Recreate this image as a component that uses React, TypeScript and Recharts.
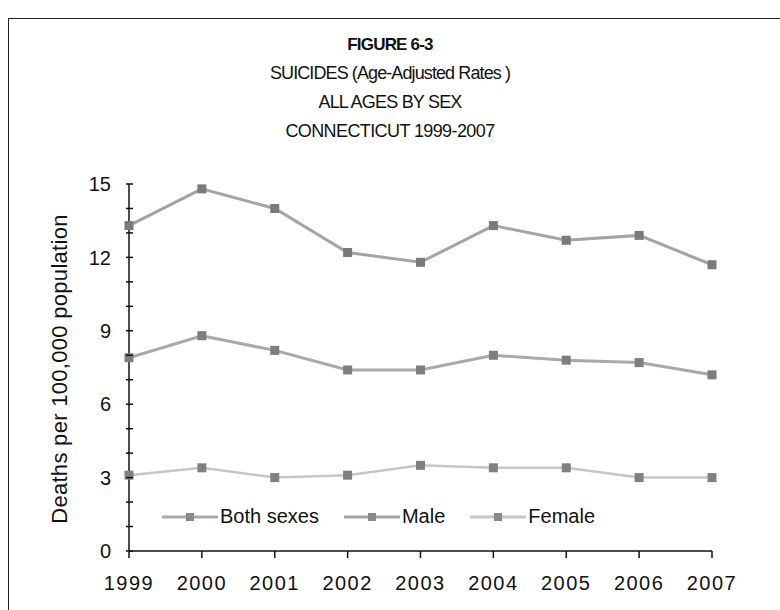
import { LineChart, Line, XAxis, YAxis, Legend } from "recharts";

const years = ["1999", "2000", "2001", "2002", "2003", "2004", "2005", "2006", "2007"];
const maleRates = [13.3, 14.8, 14.0, 12.2, 11.8, 13.3, 12.7, 12.9, 11.7];
const bothRates = [7.9, 8.8, 8.2, 7.4, 7.4, 8.0, 7.8, 7.7, 7.2];
const femaleRates = [3.1, 3.4, 3.0, 3.1, 3.5, 3.4, 3.4, 3.0, 3.0];
const yTicks = [0, 1, 2, 3, 4, 5, 6, 7, 8, 9, 10, 11, 12, 13, 14, 15];
const legendOrder = ["Both sexes", "Male", "Female"];

const data = years.map((y, i) => ({
  year: y,
  both: bothRates[i],
  male: maleRates[i],
  female: femaleRates[i],
}));

const font = '"Liberation Sans", Arial, sans-serif';

function squareDot(fill: string) {
  return (props: any) => {
    const { cx, cy, index } = props;
    if (cx == null || cy == null) return <g key={index} />;
    return <rect key={index} x={cx - 4.5} y={cy - 4.5} width={9} height={9} fill={fill} />;
  };
}

// every unit gets a tick, only multiples of 3 get a label
function YTick(props: any) {
  const { x, y, payload } = props;
  const v = Number(payload.value);
  return (
    <g>
      <line x1={x + 5} x2={x + 12} y1={y} y2={y} stroke="#111" strokeWidth={1.5} />
      {v % 3 === 0 && (
        <text x={x - 10} y={y} dy="0.36em" textAnchor="end" fontSize={20} fill="#111" fontFamily={font}>
          {v}
        </text>
      )}
    </g>
  );
}

function LegendBox(props: any) {
  const items = [...(props.payload || [])].sort(
    (a: any, b: any) => legendOrder.indexOf(a.value) - legendOrder.indexOf(b.value)
  );
  const gaps = [0, 25, 25];
  return (
    <div style={{ display: "flex", alignItems: "center", fontFamily: font, fontSize: 20, color: "#111" }}>
      {items.map((it: any, i: number) => (
        <div key={it.value} style={{ display: "flex", alignItems: "center", marginLeft: gaps[i] }}>
          <svg width={56} height={12}>
            <line x1={0} x2={56} y1={6} y2={6} stroke={it.color} strokeWidth={3} />
            <rect x={24} y={2} width={8} height={8} fill="#8a8a8a" />
          </svg>
          <span style={{ marginLeft: 2, letterSpacing: 0 }}>{it.value}</span>
        </div>
      ))}
    </div>
  );
}

export default function App() {
  return (
    <div style={{ position: "absolute", left: 0, top: 0, width: 780, height: 610, background: "#fff", overflow: "hidden" }}>
      <div
        style={{
          position: "absolute",
          left: 8,
          top: 18,
          width: 800,
          height: 620,
          borderLeft: "1.5px solid #222",
          borderTop: "1.5px solid #222",
        }}
      />
      <div style={{ position: "absolute", left: 0, top: 30, width: 780, textAlign: "center", fontFamily: font, color: "#111" }}>
        <div style={{ fontSize: 17, fontWeight: "bold", letterSpacing: -0.8, lineHeight: "29px", height: 29 }}>FIGURE 6-3</div>
        <div style={{ fontSize: 18, letterSpacing: -0.9, lineHeight: "29px", height: 29 }}>SUICIDES (Age-Adjusted Rates )</div>
        <div style={{ fontSize: 18, letterSpacing: -0.8, lineHeight: "29px", height: 29 }}>ALL AGES BY SEX</div>
        <div style={{ fontSize: 18, letterSpacing: -0.6, lineHeight: "29px", height: 29 }}>CONNECTICUT 1999-2007</div>
      </div>
      <div
        style={{
          position: "absolute",
          left: 60,
          top: 369,
          transform: "translate(-50%, -50%) rotate(-90deg)",
          whiteSpace: "nowrap",
          fontFamily: font,
          fontSize: 22,
          letterSpacing: 0.3,
          color: "#111",
        }}
      >
        Deaths per 100,000 population
      </div>
      <div style={{ position: "absolute", left: 0, top: 0 }}>
        <LineChart width={780} height={610} data={data} margin={{ top: 184, right: 68, bottom: 29, left: 69 }}>
          <XAxis
            dataKey="year"
            height={30}
            axisLine={{ stroke: "#111", strokeWidth: 1.5 }}
            tickLine={{ stroke: "#111", strokeWidth: 1.5 }}
            tickSize={7}
            tickMargin={18}
            tick={{ fontSize: 20, fill: "#111", fontFamily: font, letterSpacing: 1.5 }}
            interval={0}
          />
          <YAxis
            width={60}
            domain={[0, 15]}
            ticks={yTicks}
            interval={0}
            axisLine={{ stroke: "#111", strokeWidth: 1.5 }}
            tickLine={false}
            tick={<YTick />}
          />
          <Legend
            layout="horizontal"
            verticalAlign="middle"
            align="center"
            content={<LegendBox />}
            wrapperStyle={{ position: "absolute", left: 162, top: 505, width: 480 }}
          />
          <Line dataKey="both" name="Both sexes" stroke="#a9a9a9" strokeWidth={3} dot={squareDot("#7e7e7e")} isAnimationActive={false} />
          <Line dataKey="male" name="Male" stroke="#a4a4a4" strokeWidth={3} dot={squareDot("#7a7a7a")} isAnimationActive={false} />
          <Line dataKey="female" name="Female" stroke="#c6c6c6" strokeWidth={2.5} dot={squareDot("#808080")} isAnimationActive={false} />
        </LineChart>
      </div>
    </div>
  );
}
